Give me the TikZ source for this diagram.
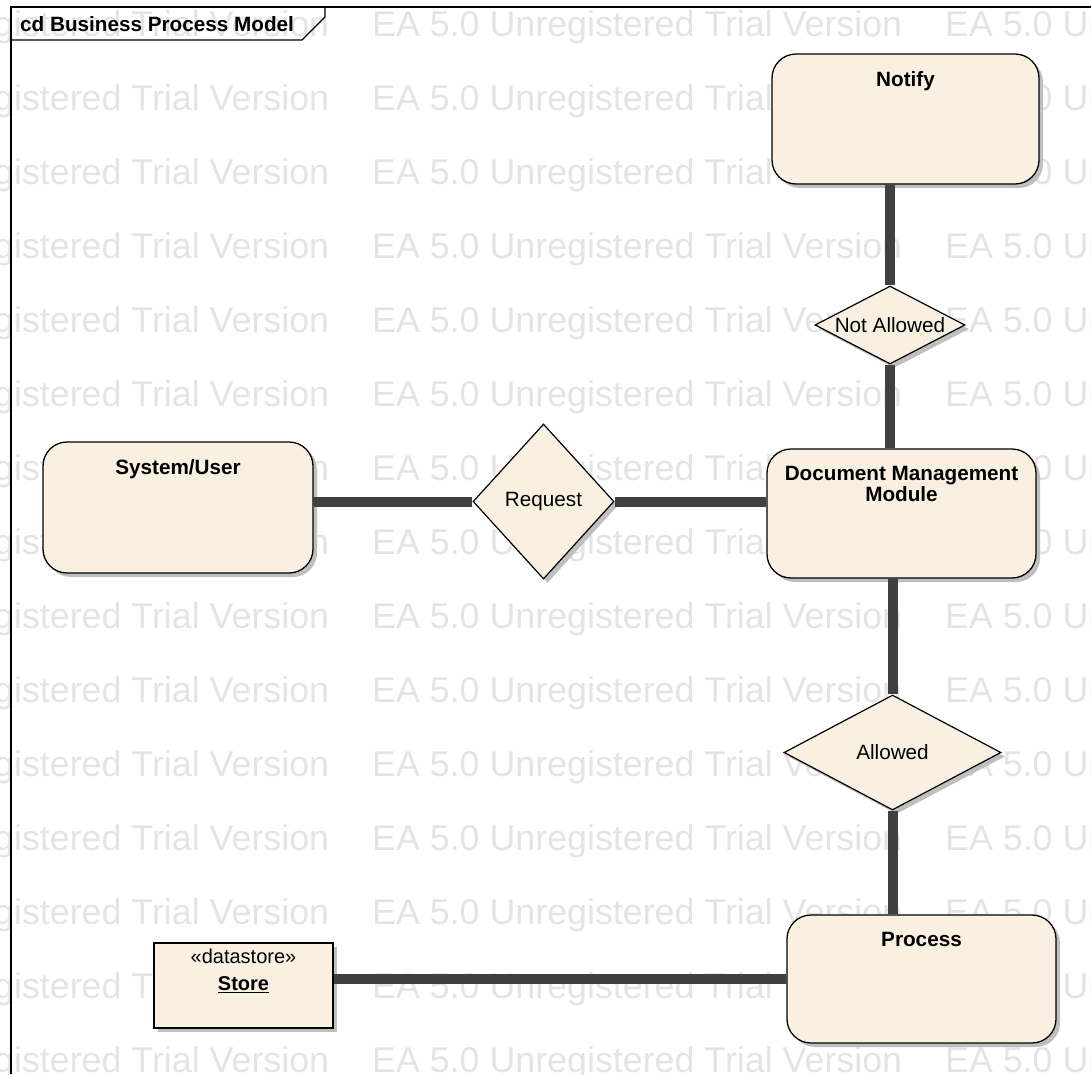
\documentclass[tikz,border=0pt]{standalone}
\usepackage{fontspec}
\setmainfont{Liberation Sans}
\usetikzlibrary{shapes.geometric,shadows}

\definecolor{elemfill}{HTML}{FAF0E2}
\definecolor{linkgray}{HTML}{404040}
\definecolor{shadowgray}{HTML}{BFBFBF}
\definecolor{wmgray}{HTML}{E4E4E4}

\tikzset{
  shadowed/.style={drop shadow={shadow xshift=4pt, shadow yshift=-4pt,
      fill=shadowgray, opacity=1}},
  activity/.style={draw=black, line width=1.3pt, fill=elemfill,
      rounded corners=24pt, shadowed, inner sep=0pt},
  decision/.style={diamond, draw=black, line width=1.2pt, fill=elemfill,
      shadowed, inner sep=0pt, font=\fontsize{20.7}{22}\selectfont},
  datastore/.style={draw=black, line width=1.2pt, fill=elemfill,
      shadowed, inner sep=0pt},
  boxtitle/.style={anchor=north, yshift=-18pt, inner sep=0pt, align=center,
      font=\bfseries\fontsize{20.7}{21}\selectfont},
  storetitle/.style={anchor=north, yshift=-6pt, inner sep=0pt, align=center,
      font=\fontsize{20}{27}\selectfont},
  link/.style={draw=linkgray, line width=10pt},
  watermark/.style={anchor=base west, inner sep=0pt, text=wmgray,
      font=\fontsize{35.8}{40}\selectfont},
  frameline/.style={draw=black, line width=1.2pt},
}

\begin{document}
\begin{tikzpicture}[x=1pt, y=-1pt]
\useasboundingbox (0,0) rectangle (1091,1074);

% evaluation watermark rows
\begin{scope}
  \clip (0,0) rectangle (1091,1074);
  \foreach \r in {0,...,14}{
    \foreach \k in {-1,0,1}{
      \node[watermark] (wm-\r-\k) at ({372+573*\k}, {36+74*\r})
        {EA 5.0 Unregistered Trial Version};
    }
  }
\end{scope}

% diagram frame and its name tab
\draw[frameline] (11,1074) -- (11,7) -- (1091,7);
\draw[frameline] (11,40) -- (302,40) -- (325,17) -- (325,7);
\node[anchor=base west, inner sep=0pt,
      font=\bfseries\fontsize{20.7}{22}\selectfont] (title) at (20,31)
  {cd Business Process Model};

% elements
\node[activity, minimum width=267pt, minimum height=130pt,
      label={[boxtitle]north:Notify}] (notify) at (905.5,119) {};
\node[activity, minimum width=270pt, minimum height=131pt,
      label={[boxtitle]north:System/User}] (sys) at (178,507.5) {};
\node[activity, minimum width=269pt, minimum height=129pt,
      label={[boxtitle]north:Document Management\\Module}] (dmm) at (901.5,513.5) {};
\node[activity, minimum width=269pt, minimum height=128pt,
      label={[boxtitle]north:Process}] (proc) at (921.5,979) {};
\node[datastore, minimum width=179pt, minimum height=85pt,
      label={[storetitle]north:«datastore»\\\textbf{\underline{Store}}}] (store) at (243.5,985.5) {};

\node[decision, minimum width=141pt, minimum height=155pt, aspect=0.91] (req) at (543.5,501.5) {Request};
\node[decision, minimum width=150pt, minimum height=78pt, aspect=1.92] (na) at (890,325) {Not Allowed};
\node[decision, minimum width=217pt, minimum height=115pt, aspect=1.89] (al) at (892.5,752.5) {Allowed};

% connectors between the elements
\draw[link] (req.west) -- (req.west -| sys.east);
\draw[link] (req.east) -- (req.east -| dmm.west);
\draw[link] (na.south) -- (na.south |- dmm.north);
\draw[link] (na.north) -- (na.north |- notify.south);
\draw[link] (al.north) -- (al.north |- dmm.south);
\draw[link] (al.south) -- (al.south |- proc.north);
\draw[link] (proc.west) -- (proc.west -| store.east);
\end{tikzpicture}
\end{document}
